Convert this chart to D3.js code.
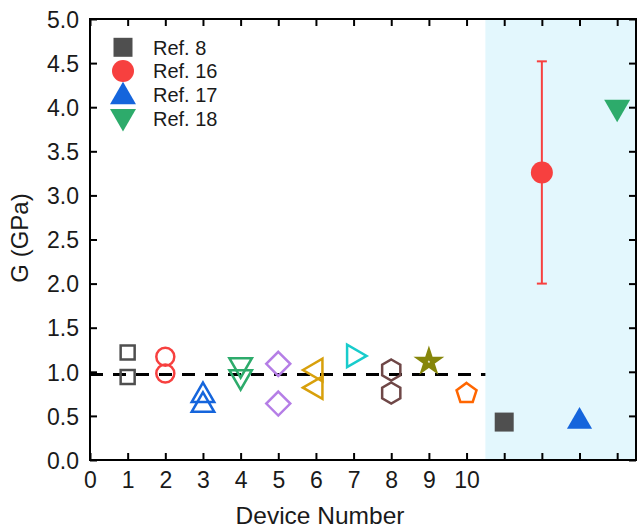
<!DOCTYPE html>
<html>
<head>
<meta charset="utf-8">
<script src="https://cdn.jsdelivr.net/npm/d3@7"></script>
<style>
  body { margin: 0; background: #fff; }
  svg { display: block; font-family: "Liberation Sans", Arial, sans-serif; }
</style>
</head>
<body>
<div id="chart"></div>
<script>
// measured devices (open markers)
const deviceNumbers = [1, 2, 3, 4, 5, 6, 7, 8, 9, 10];
const deviceG = [
  [1.22, 0.94],
  [1.17, 0.98],
  [0.73, 0.62],
  [1.08, 0.945],
  [1.09, 0.64],
  [1.02, 0.82],
  [1.18],
  [1.02, 0.76],
  [1.115],
  [0.755]
];
const meanG = 0.97;

// literature values (filled markers)
const refLabels = ["Ref. 8", "Ref. 16", "Ref. 17", "Ref. 18"];
const refX = [11, 12, 13, 14];
const refG = [0.43, 3.26, 0.436, 4.0];
const refErrLow = [null, 2.0, null, null];
const refErrHigh = [null, 4.52, null, null];

const xTicks = [0, 1, 2, 3, 4, 5, 6, 7, 8, 9, 10, 11, 12, 13, 14];
const xTickLabels = ["0", "1", "2", "3", "4", "5", "6", "7", "8", "9", "10"];
const yTicks = [0, 0.5, 1, 1.5, 2, 2.5, 3, 3.5, 4, 4.5, 5];

// marker styles
const deviceShapes = ["square", "circle", "triUp", "triDown", "diamond", "triLeft", "triRight", "hexagon", "star", "pentagon"];
const deviceColors = ["#4f4f4f", "#f7403f", "#1565dc", "#2dab6b", "#b57ee6", "#d8a00b", "#18cccc", "#6f4747", "#86860a", "#ff6600"];
const refShapes = ["square", "circle", "triUp", "triDown"];
const refColors = ["#4f4f4f", "#f7403f", "#1565dc", "#2dab6b"];

const W = 637, H = 529;
const mLeft = 90, mRight = 636, mTop = 19, mBottom = 460;

const svg = d3.select("#chart").append("svg")
  .attr("width", W).attr("height", H);

const x = d3.scaleLinear().domain([0, 14.5]).range([mLeft, mRight]);
const y = d3.scaleLinear().domain([0, 5]).range([mBottom, mTop]);

// shaded literature region
svg.append("rect")
  .attr("x", x(10.5)).attr("y", mTop)
  .attr("width", x(14.5) - x(10.5)).attr("height", mBottom - mTop)
  .attr("fill", "#e3f7fd");

function poly(n, r, rot) {
  const pts = [];
  for (let i = 0; i < n; i++) {
    const a = (rot + i * 360 / n) * Math.PI / 180;
    pts.push([r * Math.cos(a), r * Math.sin(a)]);
  }
  return "M" + pts.map(p => p[0].toFixed(2) + "," + p[1].toFixed(2)).join("L") + "Z";
}

function shapePath(shape, s) {
  switch (shape) {
    case "square": return `M${-s},${-s}H${s}V${s}H${-s}Z`;
    case "circle": return `M${s},0A${s},${s} 0 1,1 ${-s},0A${s},${s} 0 1,1 ${s},0Z`;
    case "triUp": return poly(3, s, -90);
    case "triDown": return poly(3, s, 90);
    case "triLeft": return poly(3, s, 180);
    case "triRight": return poly(3, s, 0);
    case "diamond": return poly(4, s, -90);
    case "hexagon": return poly(6, s, -90);
    case "pentagon": return poly(5, s, -90);
    case "star": return d3.symbol(d3.symbolStar, s * s * 1.6)();
  }
}

const openSize = { square: 7, circle: 9, triUp: 13, triDown: 13, triLeft: 13, triRight: 13, diamond: 12, hexagon: 10.5, pentagon: 10.5, star: 7.5 };
const fillSize = { square: 9.5, circle: 11, triUp: 14.5, triDown: 15 };

// dashed average line
svg.append("line")
  .attr("x1", x(0)).attr("x2", x(10.5))
  .attr("y1", y(meanG)).attr("y2", y(meanG))
  .attr("stroke", "#000").attr("stroke-width", 3)
  .attr("stroke-dasharray", "13,10");

// device markers
const devPts = [];
deviceNumbers.forEach((d, i) => {
  deviceG[i].forEach(g => devPts.push({ x: d, g: g, shape: deviceShapes[i], color: deviceColors[i] }));
});

svg.append("g").selectAll("path")
  .data(devPts)
  .join("path")
  .attr("transform", d => `translate(${x(d.x)},${y(d.g)})`)
  .attr("d", d => shapePath(d.shape, openSize[d.shape]))
  .attr("fill", "none")
  .attr("stroke", d => d.color)
  .attr("stroke-width", d => d.shape === "star" ? 4.5 : 2.5)
  .attr("stroke-linejoin", "miter");

// error bar
refX.forEach((rx, i) => {
  if (refErrLow[i] == null) return;
  const g = svg.append("g").attr("stroke", refColors[i]).attr("stroke-width", 2);
  g.append("line").attr("x1", x(rx)).attr("x2", x(rx)).attr("y1", y(refErrLow[i])).attr("y2", y(refErrHigh[i]));
  g.append("line").attr("x1", x(rx) - 5).attr("x2", x(rx) + 5).attr("y1", y(refErrLow[i])).attr("y2", y(refErrLow[i]));
  g.append("line").attr("x1", x(rx) - 5).attr("x2", x(rx) + 5).attr("y1", y(refErrHigh[i])).attr("y2", y(refErrHigh[i]));
});

// reference markers
svg.append("g").selectAll("path")
  .data(refX)
  .join("path")
  .attr("transform", (d, i) => `translate(${x(d)},${y(refG[i])})`)
  .attr("d", (d, i) => shapePath(refShapes[i], fillSize[refShapes[i]]))
  .attr("fill", (d, i) => refColors[i]);

// frame
svg.append("rect")
  .attr("x", mLeft).attr("y", mTop)
  .attr("width", mRight - mLeft).attr("height", mBottom - mTop)
  .attr("fill", "none").attr("stroke", "#000").attr("stroke-width", 2);

// axes (ticks inward)
const tickLen = 7;
const xb = svg.append("g").attr("transform", `translate(0,${mBottom})`)
  .call(d3.axisBottom(x).tickValues(xTicks).tickSize(-tickLen).tickSizeOuter(0)
    .tickFormat(d => d <= 10 ? xTickLabels[d] : ""));
const xt = svg.append("g").attr("transform", `translate(0,${mTop})`)
  .call(d3.axisTop(x).tickValues(xTicks).tickSize(-tickLen).tickSizeOuter(0).tickFormat(""));
const yl = svg.append("g").attr("transform", `translate(${mLeft},0)`)
  .call(d3.axisLeft(y).tickValues(yTicks).tickSize(-tickLen).tickSizeOuter(0).tickFormat(d3.format(".1f")));
const yr = svg.append("g").attr("transform", `translate(${mRight},0)`)
  .call(d3.axisRight(y).tickValues(yTicks).tickSize(-tickLen).tickSizeOuter(0).tickFormat(""));

[xb, xt, yl, yr].forEach(a => {
  a.select(".domain").remove();
  a.selectAll(".tick line").attr("stroke", "#000").attr("stroke-width", 2);
  a.selectAll("text").attr("fill", "#1a1a1a").style("font-family", "'Liberation Sans', Arial, sans-serif").style("font-size", "23px");
});
xb.selectAll("text").attr("y", 12).attr("dy", "0.71em");
yl.selectAll("text").attr("x", -11).attr("dy", "0.36em");

// axis titles
svg.append("text")
  .attr("x", 320).attr("y", 524)
  .attr("text-anchor", "middle")
  .attr("fill", "#1a1a1a")
  .style("font-size", "24.5px")
  .text("Device Number");

svg.append("text")
  .attr("transform", `translate(27.5,238) rotate(-90)`)
  .attr("text-anchor", "middle")
  .attr("fill", "#1a1a1a")
  .style("font-size", "24px")
  .text("G (GPa)");

// legend
const legendSize = { square: 9.5, circle: 11, triUp: 15, triDown: 15 };
const leg = svg.append("g").selectAll("g")
  .data(refLabels)
  .join("g")
  .attr("transform", (d, i) => `translate(123,${47.3 + i * 23.7})`);
leg.append("path")
  .attr("d", (d, i) => shapePath(refShapes[i], legendSize[refShapes[i]]))
  .attr("transform", (d, i) => refShapes[i] === "triUp" ? "translate(0,2)" : refShapes[i] === "triDown" ? "translate(0,-2)" : null)
  .attr("fill", (d, i) => refColors[i]);
leg.append("text")
  .attr("x", 30).attr("dy", "0.36em")
  .attr("fill", "#1a1a1a")
  .style("font-size", "20px")
  .text(d => d);
</script>
</body>
</html>
